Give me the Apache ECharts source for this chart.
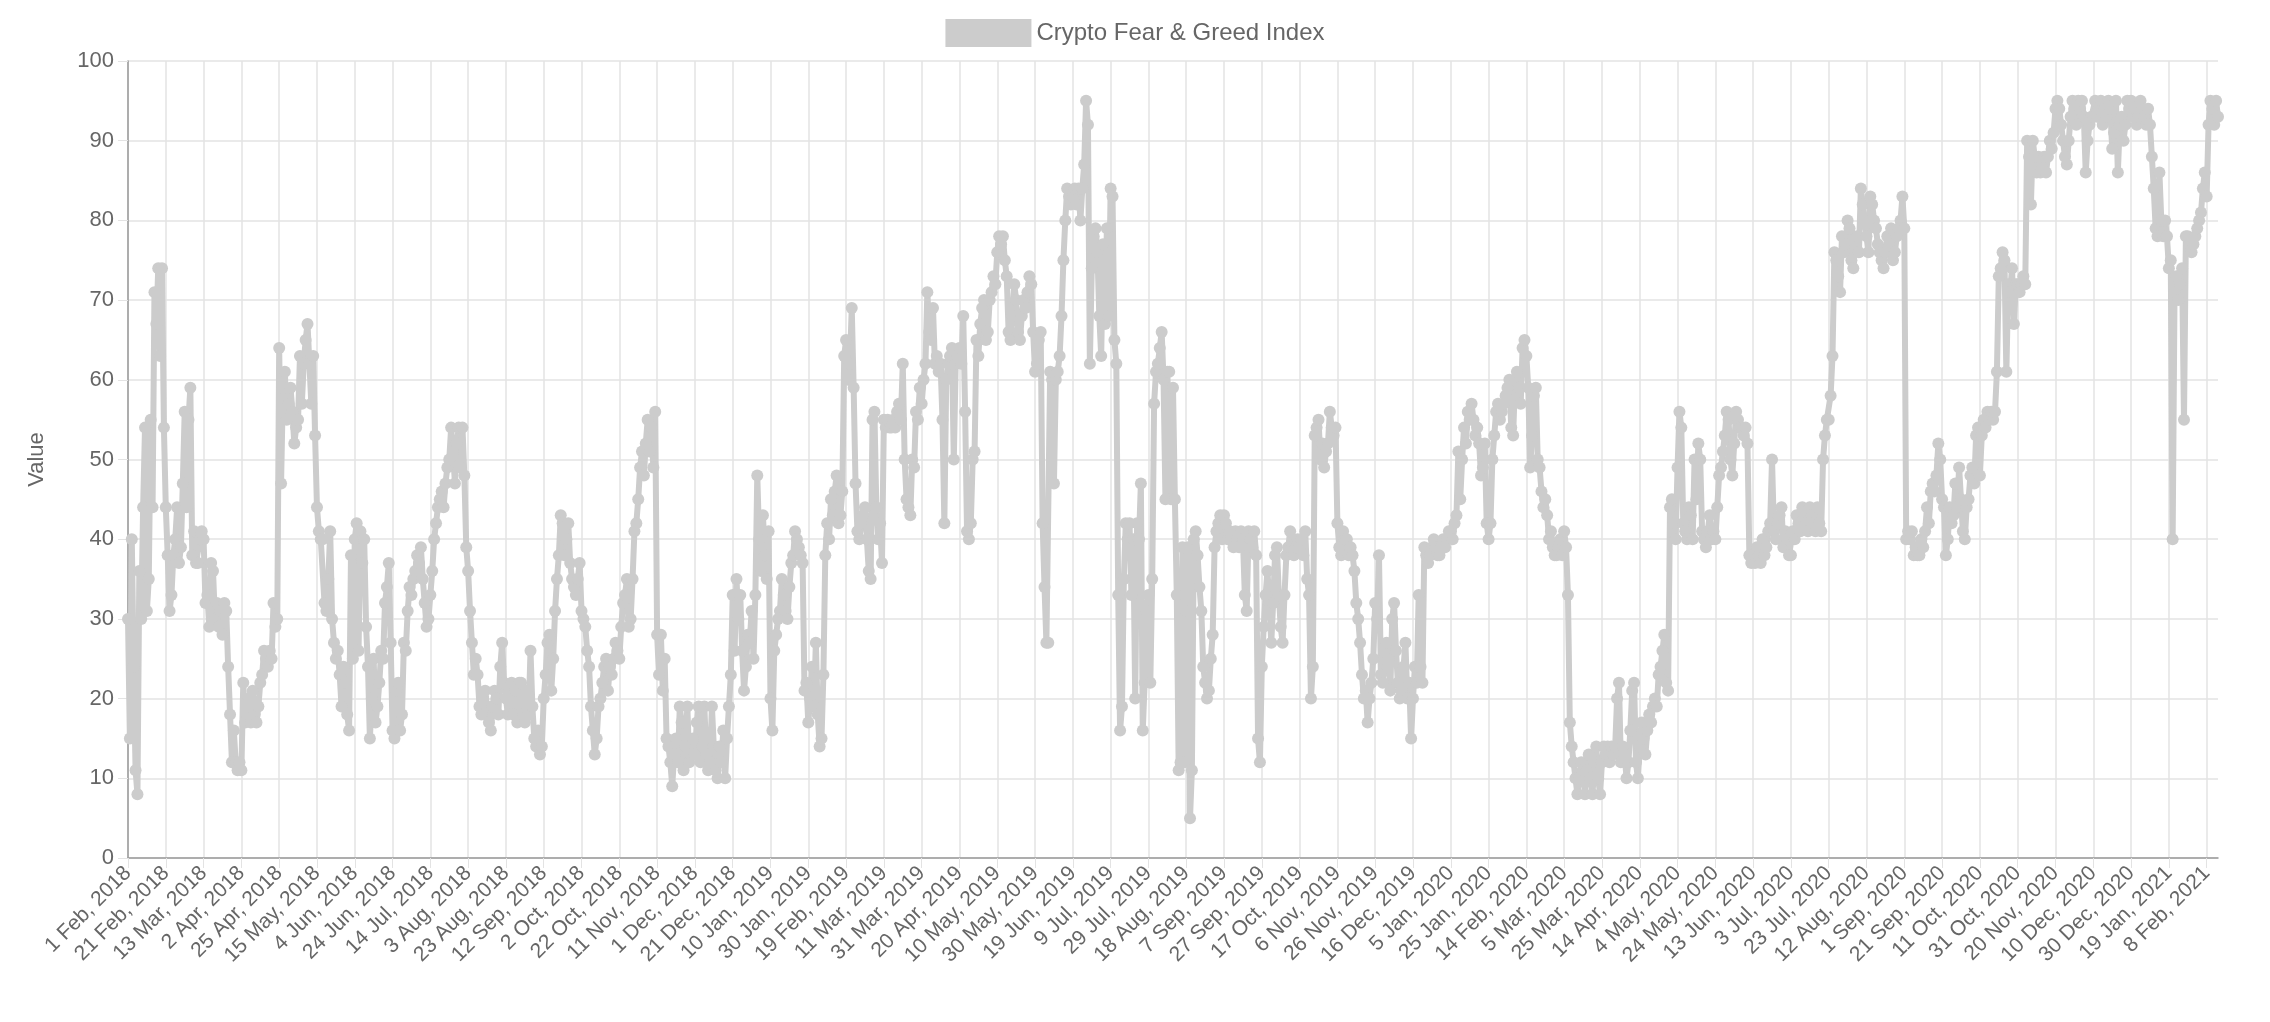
<!DOCTYPE html>
<html>
<head>
<meta charset="utf-8">
<script src="https://cdn.jsdelivr.net/npm/echarts@6/dist/echarts.min.js"></script>
<style>
  html, body { margin: 0; padding: 0; background: #fff; }
  #chart { width: 2270px; height: 1022px; }
</style>
</head>
<body>
<div id="chart"></div>
<script>
// daily series, 1 Feb 2018 onwards (14-16 Apr 2018 missing in source)
const startDate = '2018-02-01';
const skippedDays = ['2018-04-14', '2018-04-15', '2018-04-16'];
const monthNames = ['Jan', 'Feb', 'Mar', 'Apr', 'May', 'Jun', 'Jul', 'Aug', 'Sep', 'Oct', 'Nov', 'Dec'];
const seriesName = 'Crypto Fear & Greed Index';

const values = [
  30,15,40,24,11,8,36,30,44,54,31,35,55,44,71,67,74,63,74,54,
  44,38,31,33,38,40,44,37,39,47,56,44,55,59,38,41,37,37,40,41,
  40,32,33,29,37,36,30,32,29,31,28,32,31,24,18,12,16,12,11,12,
  11,22,17,18,20,17,21,18,17,19,22,23,26,25,24,26,25,32,29,30,
  64,47,59,61,55,57,59,56,52,54,55,63,57,62,65,67,62,57,63,53,
  44,41,40,40,32,31,35,41,30,27,25,26,23,19,24,22,18,16,38,25,
  40,42,26,41,37,40,29,24,15,20,25,17,19,22,26,25,32,34,37,27,
  16,15,21,22,16,18,27,26,31,34,33,35,36,38,37,39,35,32,29,30,
  33,36,40,42,44,45,46,44,47,49,50,54,51,47,52,54,49,54,48,39,
  36,31,27,23,25,23,19,18,20,21,19,17,16,19,21,20,18,24,27,22,
  20,18,21,22,18,21,17,22,22,18,17,21,18,26,19,15,14,16,13,14,
  20,23,27,28,21,25,31,35,38,43,42,38,40,42,37,35,34,33,35,37,
  31,30,29,26,24,19,16,13,15,19,20,22,24,25,21,24,23,25,27,26,
  25,29,32,33,35,29,30,35,41,42,45,49,51,48,52,55,51,54,49,56,
  28,23,28,21,25,15,14,12,9,13,15,12,19,17,11,14,19,12,13,15,
  13,17,19,12,14,19,13,11,12,19,14,11,10,14,12,16,10,15,19,23,
  33,26,35,30,33,26,21,24,28,27,31,25,33,48,40,36,43,38,35,41,
  20,16,26,28,30,31,35,33,31,30,34,37,38,41,40,39,38,37,21,22,
  17,20,24,19,27,18,14,15,23,38,42,40,45,43,46,48,42,43,46,63,
  65,60,62,69,59,47,41,40,42,43,44,40,36,35,55,56,44,40,42,37,
  55,54,55,54,54,55,54,56,57,55,62,50,45,44,43,50,49,56,55,59,
  57,60,62,71,66,65,69,62,63,61,62,55,42,60,62,63,64,50,62,63,
  64,62,68,56,41,40,42,50,51,65,63,67,69,70,65,66,70,71,73,72,
  76,78,77,78,75,73,66,65,68,72,70,66,65,68,70,69,71,73,72,66,
  61,62,65,66,42,34,27,27,61,60,47,60,61,63,68,75,80,84,83,82,
  83,84,82,84,80,84,87,95,92,62,74,78,79,76,68,63,77,67,79,68,
  84,83,65,62,33,16,19,35,42,40,42,33,40,20,42,40,47,16,22,31,
  33,22,35,57,61,62,64,66,60,45,61,61,45,59,45,33,11,12,39,12,
  31,39,5,11,40,41,38,34,31,24,22,20,21,25,28,39,41,42,43,40,
  43,42,40,41,40,39,41,40,39,41,40,33,31,41,40,39,41,38,15,12,
  24,29,33,36,32,27,32,38,39,33,29,27,33,38,39,41,39,38,39,40,
  39,40,38,41,35,33,20,24,53,54,55,50,52,49,51,52,56,54,53,54,
  42,39,38,41,40,40,38,39,38,36,32,30,27,23,20,21,17,20,22,25,
  32,30,38,23,22,25,27,25,21,30,32,26,22,20,21,24,27,20,22,15,
  20,24,22,33,24,22,39,38,37,38,39,40,39,38,38,39,40,39,40,41,
  41,40,42,43,51,45,50,54,52,56,55,57,55,53,54,52,48,49,52,42,
  40,42,50,53,56,57,55,56,57,58,59,60,54,53,60,61,59,57,64,65,
  63,59,49,53,58,59,50,49,46,44,45,43,40,41,39,38,38,39,40,38,
  41,39,33,17,14,12,10,8,10,12,11,8,11,13,10,8,12,14,10,8,
  12,14,13,14,12,14,13,14,20,22,12,14,13,10,12,16,21,22,12,10,
  14,17,15,13,16,18,17,19,20,19,23,24,26,28,22,21,44,45,42,40,
  49,56,54,42,41,40,44,43,40,50,45,52,50,41,40,39,41,43,40,41,
  40,44,48,49,51,53,56,55,50,48,52,56,55,54,54,53,54,52,38,37,
  38,37,39,38,37,40,38,39,41,42,50,41,40,42,43,44,39,41,40,38,
  38,41,40,43,42,41,44,43,42,41,44,43,42,41,44,42,41,50,53,55,
  55,58,63,76,75,73,71,78,76,77,80,79,75,74,77,78,76,84,82,80,
  78,76,83,82,80,79,77,76,75,74,76,78,77,79,75,76,78,79,80,83,
  79,40,41,40,41,38,39,38,38,40,39,41,44,42,46,47,46,48,52,50,
  45,44,38,40,44,42,43,47,44,49,45,41,40,44,45,48,49,47,53,54,
  48,53,55,54,56,55,56,55,56,61,73,74,76,75,61,72,71,74,67,72,
  72,71,72,73,72,90,88,82,90,88,86,88,86,87,88,86,88,90,89,91,
  94,95,94,92,90,88,87,90,93,95,94,92,95,94,95,93,86,90,92,93,
  93,95,93,94,95,92,94,93,95,94,89,91,95,86,92,93,90,92,95,94,
  95,93,94,92,93,95,94,93,92,94,92,88,84,79,78,86,80,78,80,78,
  74,75,40,71,73,70,72,74,55,78,78,77,76,77,78,79,80,81,84,86,
  83,92,95,94,92,95,93
];

// build the category labels
const dates = [];
const d = new Date(startDate + 'T00:00:00Z');
while (dates.length < values.length) {
    const iso = d.toISOString().slice(0, 10);
    if (!skippedDays.includes(iso)) {
        dates.push(d.getUTCDate() + ' ' + monthNames[d.getUTCMonth()] + ', ' + d.getUTCFullYear());
    }
    d.setUTCDate(d.getUTCDate() + 1);
}

const myChart = echarts.init(document.getElementById('chart'));
const textColor = '#666';
const gridColor = '#e3e3e3';

const option = {
    animation: false,
    legend: {
        top: 14,
        left: 'center',
        itemWidth: 86,
        itemHeight: 28,
        icon: 'rect',
        itemGap: 10,
        textStyle: { fontSize: 24, color: textColor, fontFamily: 'Liberation Sans' },
        data: [{ name: seriesName, itemStyle: { color: '#cccccc' } }],
    },
    grid: { left: 128, right: 52, top: 61, bottom: 164 },
    xAxis: {
        type: 'category',
        boundaryGap: false,
        data: dates,
        axisLine: { lineStyle: { color: '#999', width: 1.5 } },
        axisTick: { show: true, interval: 19, length: 10, lineStyle: { color: gridColor } },
        axisLabel: {
            interval: 19,
            rotate: 45,
            fontSize: 21,
            color: textColor,
            fontFamily: 'Liberation Sans',
            margin: 12,
        },
        splitLine: { show: true, interval: 19, lineStyle: { color: gridColor, width: 1.5 } },
    },
    yAxis: {
        type: 'value',
        min: 0,
        max: 100,
        interval: 10,
        name: 'Value',
        nameLocation: 'middle',
        nameGap: 80,
        nameTextStyle: { fontSize: 22, color: textColor, fontFamily: 'Liberation Sans' },
        axisLine: { show: true, lineStyle: { color: '#999', width: 1.5 } },
        axisTick: { show: true, length: 10, lineStyle: { color: gridColor } },
        axisLabel: { fontSize: 22, color: textColor, fontFamily: 'Liberation Sans', margin: 14 },
        splitLine: { lineStyle: { color: gridColor, width: 1.5 } },
    },
    series: [
        {
            name: seriesName,
            type: 'line',
            data: values,
            symbol: 'circle',
            symbolSize: 12,
            showAllSymbol: true,
            lineStyle: { color: '#cccccc', width: 6 },
            itemStyle: { color: '#cccccc' },
        },
    ],
};
myChart.setOption(option);
</script>
</body>
</html>
